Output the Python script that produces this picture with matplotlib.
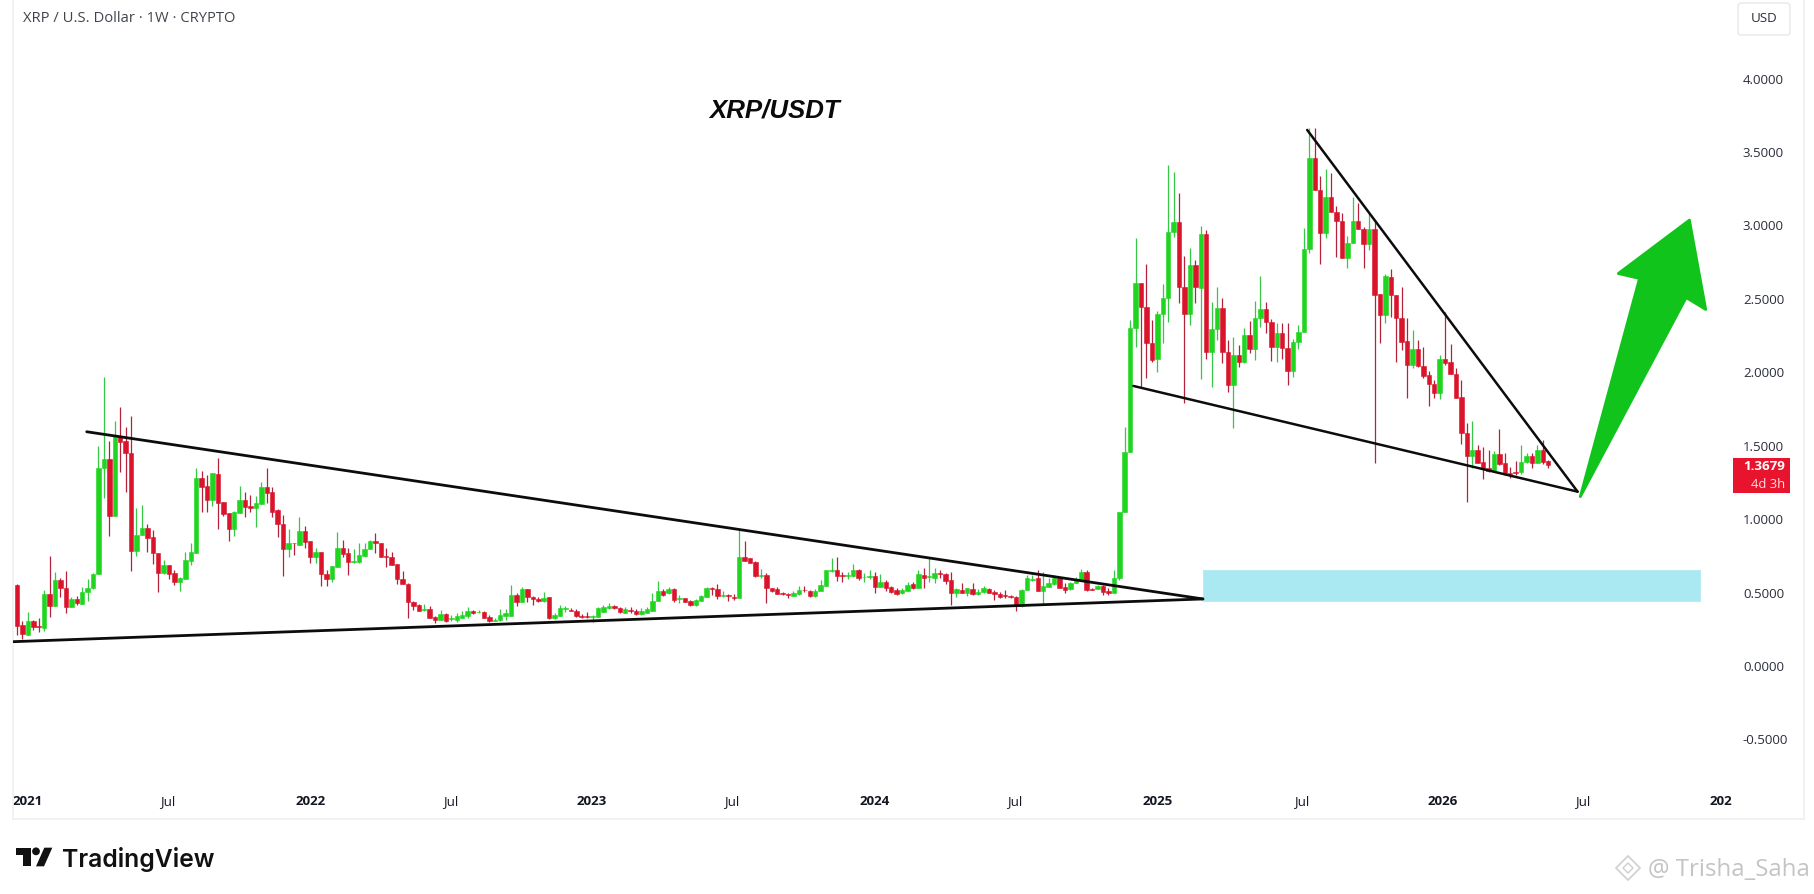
import matplotlib
matplotlib.use("Agg")
import matplotlib.pyplot as plt
from matplotlib.patches import Polygon, Rectangle, FancyBboxPatch, Circle

# weekly candles: (open, high, low, close)
candles_2021 = [
(.55,.561,.209,.273),(.277,.307,.18,.214),(.209,.368,.209,.307),(.305,.311,.243,.266),(.27,.323,.232,.266),
(.255,.516,.239,.489),(.489,.748,.334,.409),(.409,.641,.409,.584),(.584,.602,.466,.534),(.534,.648,.361,.402),
(.402,.47,.402,.459),(.459,.475,.414,.43),(.425,.539,.42,.505),(.505,.589,.443,.534),(.534,.634,.527,.625),
(.625,1.498,.625,1.35),(1.345,1.97,1.141,1.409),(1.409,1.534,.886,1.023),(1.023,1.671,1.023,1.561),(1.561,1.766,1.323,1.527),
(1.532,1.63,1.186,1.448),(1.452,1.702,.645,.784),(.784,1.073,.75,.895),(.891,1.095,.891,.936),(.936,.97,.777,.873),
(.875,.925,.693,.766),(.77,.77,.505,.634),(.63,.72,.625,.686),(.686,.686,.589,.625),(.634,.652,.55,.573),
(.573,.607,.509,.602),(.591,.773,.591,.72),(.716,.839,.686,.775),(.766,1.35,.766,1.282),(1.282,1.327,1.05,1.22),
(1.227,1.3,1.05,1.13),(1.13,1.311,1.09,1.311),(1.307,1.418,.93,1.111),(1.118,1.118,1.023,1.034),(1.043,1.043,.85,.932),
(.932,1.055,.886,1.045),(1.039,1.225,1.039,1.13),(1.13,1.186,1.016,1.084),(1.091,1.164,1.05,1.073),(1.073,1.157,.948,1.111),
(1.102,1.254,1.102,1.22),(1.22,1.35,1.107,1.18),(1.186,1.22,1.016,1.05),(1.061,1.066,.88,.966),(.966,1.027,.612,.796),
(.796,.932,.743,.839),(.839,.839,.755,.834),
]
candles_2022 = [
(.823,1.016,.823,.918),(.918,.952,.80,.846),(.85,.85,.698,.743),(.743,.80,.698,.773),(.773,.773,.543,.623),
(.623,.652,.546,.591),(.591,.68,.573,.68),(.675,.914,.675,.805),(.805,.857,.743,.759),(.771,.80,.618,.71),
(.71,.796,.698,.714),(.71,.834,.698,.755),(.75,.834,.743,.796),(.796,.857,.796,.852),(.852,.902,.771,.834),
(.834,.839,.743,.743),(.748,.80,.675,.743),(.743,.773,.686,.686),(.693,.693,.561,.591),(.595,.645,.555,.555),
(.557,.568,.323,.437),(.437,.443,.38,.41),(.414,.421,.371,.371),(.384,.425,.375,.391),(.391,.41,.327,.327),
(.33,.341,.289,.312),(.312,.38,.312,.352),(.352,.357,.302,.307),(.318,.346,.307,.323),(.316,.357,.296,.339),
(.327,.375,.323,.346),(.341,.398,.323,.375),(.375,.384,.352,.357),(.364,.38,.357,.368),(.364,.375,.323,.327),
(.33,.346,.302,.307),(.309,.323,.305,.316),(.312,.386,.307,.346),(.341,.386,.312,.357),(.341,.55,.341,.482),
(.482,.498,.407,.437),(.432,.539,.432,.527),(.525,.525,.437,.466),(.468,.475,.414,.455),(.459,.471,.437,.443),
(.442,.501,.437,.46),(.467,.471,.317,.323),(.323,.358,.317,.346),(.342,.414,.342,.392),(.387,.408,.369,.392),
(.383,.392,.371,.376),(.376,.385,.335,.339),
]
candles_2023 = [
(.339,.353,.328,.335),(.337,.369,.326,.333),(.333,.346,.301,.339),(.335,.399,.33,.392),(.369,.414,.364,.399),
(.392,.426,.385,.41),(.408,.414,.387,.392),(.394,.403,.36,.364),(.362,.399,.358,.385),(.383,.399,.358,.376),
(.374,.385,.346,.351),(.353,.392,.349,.376),(.358,.399,.358,.385),(.374,.494,.374,.442),(.442,.58,.442,.51),
(.512,.524,.476,.483),(.494,.539,.49,.524),(.521,.528,.437,.449),(.458,.483,.43,.462),(.46,.464,.433,.437),
(.442,.449,.41,.414),(.414,.455,.41,.449),(.444,.483,.439,.476),(.471,.539,.467,.53),(.53,.539,.483,.524),
(.524,.555,.453,.476),(.476,.512,.467,.48),(.483,.49,.442,.476),(.471,.49,.449,.464),(.46,.926,.46,.744),
(.744,.853,.712,.717),(.733,.737,.699,.699),(.705,.717,.608,.612),(.612,.658,.596,.619),(.619,.635,.43,.528),
(.528,.533,.505,.51),(.521,.539,.49,.49),(.494,.505,.485,.49),(.492,.499,.46,.485),(.476,.512,.476,.5),
(.487,.544,.485,.517),(.519,.544,.503,.514),(.51,.517,.471,.476),(.476,.521,.471,.512),(.512,.585,.512,.551),
(.546,.653,.546,.653),(.648,.733,.642,.653),(.653,.744,.58,.614),(.619,.642,.574,.614),(.614,.642,.589,.619),
(.614,.694,.608,.653),(.653,.658,.585,.601),
]
candles_2024 = [
(.603,.63,.569,.608),(.608,.653,.589,.612),(.612,.642,.499,.539),(.539,.624,.539,.574),(.574,.585,.512,.528),
(.535,.544,.494,.505),(.517,.528,.483,.49),(.494,.528,.49,.517),(.512,.574,.512,.551),(.555,.574,.521,.528),
(.528,.653,.528,.624),(.619,.664,.528,.596),(.608,.737,.569,.612),(.601,.664,.567,.63),(.63,.653,.596,.625),
(.624,.63,.558,.58),(.585,.642,.414,.494),(.494,.528,.467,.521),(.519,.567,.494,.499),(.499,.528,.476,.528),
(.524,.567,.483,.487),(.487,.521,.483,.505),(.501,.546,.499,.528),(.524,.528,.494,.499),(.501,.517,.449,.49),
(.49,.501,.46,.471),(.482,.517,.46,.478),(.473,.483,.46,.469),(.471,.476,.376,.408),(.408,.524,.403,.517),
(.517,.619,.517,.596),(.585,.619,.578,.589),(.596,.653,.512,.512),(.512,.642,.421,.546),(.539,.596,.539,.562),
(.556,.619,.551,.596),(.596,.603,.528,.533),(.539,.562,.499,.517),(.521,.574,.517,.567),(.567,.603,.562,.589),
(.585,.66,.58,.637),(.637,.653,.51,.517),(.524,.528,.517,.519),(.524,.551,.521,.546),(.546,.551,.483,.505),
(.512,.528,.483,.494),(.50,.65,.495,.60),(.60,1.05,.585,1.05),(1.05,1.63,1.05,1.46),(1.46,2.356,1.46,2.30),
(2.30,2.913,2.175,2.611),(2.611,2.611,1.902,2.443),
]
candles_2025 = [
(2.447,2.736,1.959,2.197),(2.202,2.356,2.073,2.084),(2.088,2.42,2.0,2.397),(2.397,2.602,2.202,2.504),(2.504,3.412,2.341,2.958),
(2.958,3.367,2.92,3.026),(3.026,3.219,2.475,2.579),(2.584,2.792,1.789,2.397),(2.397,2.845,2.322,2.731),(2.731,2.765,2.475,2.579),
(2.572,2.997,1.952,2.942),(2.942,2.97,2.089,2.136),(2.136,2.481,1.902,2.295),(2.295,2.584,2.22,2.436),(2.44,2.504,2.061,2.136),
(2.136,2.22,1.868,1.914),(1.914,2.243,1.619,2.118),(2.118,2.186,2.039,2.073),(2.073,2.3,2.061,2.254),(2.254,2.352,2.129,2.157),
(2.157,2.488,2.084,2.368),(2.368,2.658,2.311,2.431),(2.431,2.481,2.27,2.341),(2.341,2.361,2.079,2.175),(2.175,2.334,2.073,2.266),
(2.266,2.334,2.089,2.163),(2.163,2.334,1.914,2.011),(2.011,2.225,1.966,2.204),(2.204,2.322,2.157,2.277),(2.277,2.981,2.277,2.838),
(2.838,3.662,2.81,3.462),(3.462,3.662,3.242,3.242),(3.242,3.337,2.738,2.947),(2.947,3.383,2.913,3.192),(3.192,3.36,3.09,3.09),
(3.09,3.133,2.788,3.031),(3.031,3.088,2.777,2.777),(2.777,2.929,2.708,2.879),(2.879,3.192,2.879,3.031),(3.031,3.151,2.974,2.974),
(2.974,2.992,2.708,2.872),(2.872,3.094,2.833,2.974),(2.974,3.038,1.38,2.527),(2.533,2.533,2.197,2.388),(2.388,2.667,2.333,2.656),
(2.651,2.701,2.374,2.526),(2.526,2.526,2.072,2.367),(2.367,2.583,2.152,2.208),(2.213,2.367,1.822,2.047),(2.047,2.288,2.027,2.158),
(2.158,2.22,2.038,2.043),(2.043,2.174,1.959,1.977),
]
candles_2026 = [
(1.981,2.011,1.772,1.918),(1.918,1.947,1.827,1.861),(1.861,2.118,1.816,2.088),(2.088,2.413,2.05,2.065),(2.072,2.193,1.986,1.986),
(1.986,2.027,1.822,1.822),(1.829,1.947,1.511,1.584),(1.588,1.657,1.118,1.43),(1.43,1.67,1.346,1.47),(1.47,1.504,1.38,1.384),
(1.386,1.493,1.271,1.339),(1.346,1.47,1.32,1.33),(1.33,1.466,1.32,1.443),(1.443,1.611,1.37,1.375),(1.38,1.448,1.30,1.312),
(1.312,1.357,1.277,1.305),(1.318,1.398,1.30,1.312),(1.318,1.504,1.31,1.386),(1.386,1.448,1.383,1.43),(1.43,1.448,1.346,1.38),
(1.38,1.504,1.38,1.47),(1.47,1.539,1.375,1.391),(1.396,1.40,1.346,1.3679),
]

# annotations drawn on the chart (week index, price)
upper_wedge = [(12.84, 1.595), (218.4, .456)]
lower_wedge = [(-0.68, .165), (218.4, .456)]
falling_top = [(237.6, 3.651), (287.4, 1.187)]
falling_bottom = [(205.6, 1.907), (287.4, 1.187)]
zone_weeks = (218.4, 310.0)
zone_prices = (.442, .653)
arrow_shape = [(287.9, 1.153), (298.8, 2.639), (294.9, 2.673), (308.0, 3.037),
               (311.0, 2.428), (307.4, 2.509)]

price_ticks = [-0.5, 0, .5, 1, 1.5, 2, 2.5, 3, 3.5, 4]
date_tick_pos = [2, 27.8, 54, 79.9, 105.9, 131.7, 158, 183.8, 210, 236.5, 262.6, 288.4, 313.8]
date_tick_labels = ["2021", "Jul", "2022", "Jul", "2023", "Jul", "2024", "Jul", "2025", "Jul", "2026", "Jul", "202"]

W, H = 1814, 894
fig = plt.figure(figsize=(W / 100, H / 100), dpi=100, facecolor="white")
L, R, T, B = 13, 1804, 0, 819
ax = fig.add_axes([L / W, 1 - B / H, (R - L) / W, (B - T) / H])

candles = candles_2021 + candles_2022 + candles_2023 + candles_2024 + candles_2025 + candles_2026
GREEN, RED = "#1fd51f", "#d9142b"
GREEN_W, RED_W = "#35c745", "#b5213a"
for i, (o, h, l, c) in enumerate(candles):
    up = c >= o
    ax.vlines(i, l, h, color=GREEN_W if up else RED_W, lw=0.9, zorder=2)
    ax.bar(i, abs(c - o), bottom=min(o, c), width=0.82, color=GREEN if up else RED,
           edgecolor=GREEN if up else RED, linewidth=0.4, zorder=3)

ax.add_patch(Rectangle((zone_weeks[0], zone_prices[0]), zone_weeks[1] - zone_weeks[0],
                       zone_prices[1] - zone_prices[0], fc="#aae8f2", ec="#b8ecf4", lw=0.8, zorder=1))
for seg, lw in ((upper_wedge, 2.0), (lower_wedge, 2.0), (falling_top, 1.8), (falling_bottom, 1.8)):
    ax.plot(*zip(*seg), color="#0c0c0c", lw=lw, solid_capstyle="round", zorder=4)
ax.add_patch(Polygon(arrow_shape, closed=True, fc="#10c41c", ec="#10c41c", lw=2, joinstyle="round", zorder=5))

ax.set_xlim((L - 17) / 5.43, (R - 17) / 5.43)
ax.set_ylim(1.5 - (B - 445.7) / 146.8, 1.5 + 445.7 / 146.8)
ax.spines["top"].set_visible(False)
for s in ("left", "right", "bottom"):
    ax.spines[s].set_color("#eff0f2")
    ax.spines[s].set_linewidth(1.2)

font = ["Open Sans", "DejaVu Sans"]
ax.yaxis.tick_right()
ax.set_yticks(price_ticks)
ax.set_yticklabels([f"{p:.4f}" for p in price_ticks], fontsize=9.5, color="#2a2e39", family=font)
ax.tick_params(axis="y", length=0, pad=-44)
ax.set_xticks(date_tick_pos)
ax.set_xticklabels(date_tick_labels, fontsize=9.6, color="#131722", family=font)
for lab in ax.get_xticklabels():
    if lab.get_text() != "Jul":
        lab.set_fontweight("bold")
ax.tick_params(axis="x", length=0, pad=-17.5)

# overlay in pixel coordinates for page furniture
ov = fig.add_axes([0, 0, 1, 1], facecolor="none")
ov.set_xlim(0, W)
ov.set_ylim(H, 0)
ov.axis("off")
ov.text(23, 18, "XRP / U.S. Dollar · 1W · CRYPTO", fontsize=10.6, color="#3f434c", va="center", family=font)
ov.text(709, 110, "XRP/USDT", fontsize=18.6, style="italic", weight="bold", color="#0a0a0a",
        va="center", family="Liberation Sans")
ov.add_patch(FancyBboxPatch((1738, 3), 52, 32, boxstyle="round,pad=0,rounding_size=3",
                            fc="white", ec="#e6e7ea", lw=1))
ov.text(1764, 18, "USD", fontsize=9.6, color="#2a2e39", ha="center", va="center", family=font)
ov.add_patch(Rectangle((1733, 458), 57, 35, fc="#e8132c", ec="none"))
ov.text(1785, 467, "1.3679", fontsize=9.6, color="white", ha="right", va="center", weight="bold", family=font)
ov.text(1785, 484, "4d 3h", fontsize=9.4, color="#ffdfe2", ha="right", va="center", family=font)

# TradingView mark
def z(px, py):
    return (px / 3, 780 + py / 3)
logo = "#111111"
ov.add_patch(Polygon([z(47, 203), z(92, 203), z(92, 259), z(70, 259), z(70, 225), z(47, 225)], fc=logo, ec="none"))
ov.add_patch(Circle(z(108, 214), 3.9, fc=logo, ec="none"))
ov.add_patch(Polygon([z(133, 203), z(157, 203), z(132, 259), z(108, 259)], fc=logo, ec="none"))
ov.text(62, 859, "TradingView", fontsize=17.8, weight="semibold", color=logo, va="center", family="Inter")

# watermark
wm = "#cfcfcf"
ov.add_patch(Polygon([(1628, 856), (1640, 868), (1628, 880), (1616, 868)], fc="none", ec=wm, lw=1.2))
ov.add_patch(Polygon([(1628, 863), (1633, 868), (1628, 873), (1623, 868)], fc="none", ec=wm, lw=1.0))
ov.text(1648, 870, "@ Trisha_Saha", fontsize=17.3, color="#c4c4c4", va="center", family="Open Sans")

fig.savefig("out.png", dpi=100)
